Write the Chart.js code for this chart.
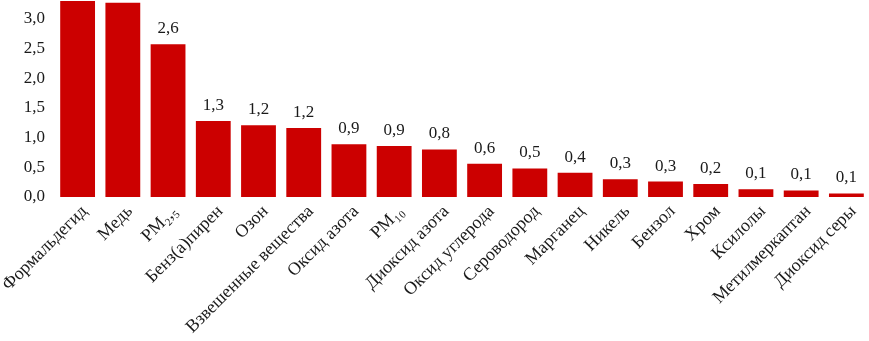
<!DOCTYPE html>
<html lang="ru">
<head>
    <meta charset="UTF-8">
    <title>Вклад веществ</title>
    <script src="https://cdn.jsdelivr.net/npm/chart.js@4.4.1/dist/chart.umd.min.js"></script>
    <style>
        body, html {
            margin: 0;
            padding: 0;
            background: #fff;
        }
        .chart-box {
            width: 869px;
            height: 341px;
        }
    </style>
</head>
<body>
    <div class="chart-box">
        <canvas id="riskChart"></canvas>
    </div>

    <script>
        // Вещества (подписи оси X)
        const substances = [
            'Формальдегид', 'Медь', 'PM₂,₅', 'Бенз(а)пирен', 'Озон',
            'Взвешенные вещества', 'Оксид азота', 'PM₁₀', 'Диоксид азота',
            'Оксид углерода', 'Сероводород', 'Марганец', 'Никель', 'Бензол',
            'Хром', 'Ксилолы', 'Метилмеркаптан', 'Диоксид серы'
        ];

        // Значения (первые два выходят за верх шкалы)
        const values = [
            3.40, 3.27, 2.57, 1.28, 1.21,
            1.16, 0.89, 0.86, 0.80,
            0.56, 0.48, 0.41, 0.30, 0.26,
            0.22, 0.13, 0.11, 0.06
        ];

        // Деления оси Y
        const yTicks = [0, 0.5, 1, 1.5, 2, 2.5, 3];
        const yMax = 3.3;

        const fmt = v => v.toFixed(1).replace('.', ',');

        // подписи значений над столбцами (у тех, что ниже верхнего деления)
        const valueLabels = {
            id: 'valueLabels',
            afterDatasetsDraw(chart) {
                const ctx = chart.ctx;
                const meta = chart.getDatasetMeta(0);
                const top = yTicks[yTicks.length - 1];
                ctx.save();
                ctx.font = '17px "Liberation Serif"';
                ctx.fillStyle = '#1a1a1a';
                ctx.textAlign = 'center';
                ctx.textBaseline = 'alphabetic';
                meta.data.forEach((bar, i) => {
                    if (values[i] > top) return;
                    ctx.fillText(fmt(values[i]), bar.x, bar.y - 11);
                });
                ctx.restore();
            }
        };

        const ctx = document.getElementById('riskChart').getContext('2d');
        new Chart(ctx, {
            type: 'bar',
            data: {
                labels: substances,
                datasets: [{
                    data: values,
                    backgroundColor: '#cc0000',
                    borderWidth: 0,
                    barPercentage: 0.77,
                    categoryPercentage: 1
                }]
            },
            options: {
                responsive: true,
                maintainAspectRatio: false,
                animation: false,
                layout: {
                    padding: { left: 18, top: 1, right: 0, bottom: 0 }
                },
                plugins: {
                    legend: { display: false },
                    tooltip: { enabled: false }
                },
                scales: {
                    x: {
                        grid: { display: false, drawTicks: false },
                        border: { display: false },
                        ticks: {
                            color: '#1a1a1a',
                            font: { family: '"Liberation Serif"', size: 18 },
                            minRotation: 45,
                            maxRotation: 45,
                            autoSkip: false,
                            padding: 4,
                            labelOffset: 7
                        },
                        afterFit(scale) {
                            scale.paddingLeft = 0;
                            scale.paddingRight = 0;
                            scale.height = 144;
                        }
                    },
                    y: {
                        min: 0,
                        max: yMax,
                        grid: { display: false, drawTicks: false },
                        border: { display: false },
                        afterBuildTicks(scale) {
                            scale.ticks = yTicks.map(v => ({ value: v }));
                        },
                        afterFit(scale) {
                            scale.width = 37;
                            scale.paddingTop = 0;
                            scale.paddingBottom = 0;
                        },
                        ticks: {
                            color: '#1a1a1a',
                            font: { family: '"Liberation Serif"', size: 17 },
                            padding: 10,
                            callback: v => fmt(v)
                        }
                    }
                }
            },
            plugins: [valueLabels]
        });
    </script>
</body>
</html>
